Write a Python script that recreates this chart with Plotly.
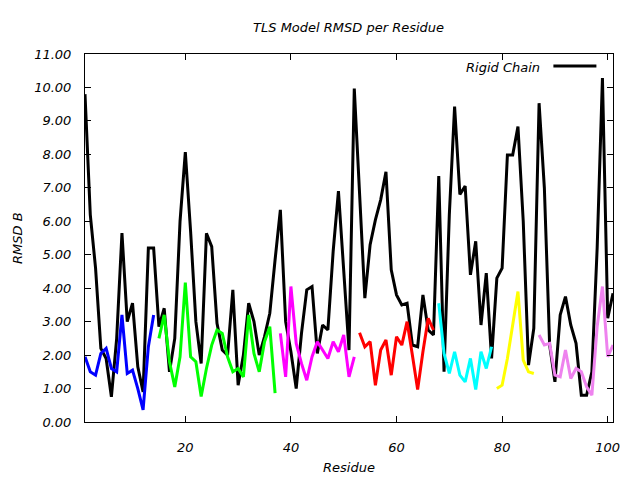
import plotly.graph_objects as go

# ---------------- data ----------------
residues = list(range(1, 102))

rigid_chain = [
    9.8, 6.2, 4.6, 2.2, 1.9, 0.75, 2.5, 5.65, 3.0, 3.55,
    1.65, 0.9, 5.2, 5.2, 2.85, 3.4, 1.5, 2.5, 6.0, 8.07,
    5.7, 3.0, 1.75, 5.64, 5.24, 2.95, 2.15, 2.0, 3.95, 1.1,
    2.0, 3.55, 3.0, 2.0, 2.55, 3.25, 4.85, 6.34, 3.0, 2.1,
    1.0, 2.65, 3.95, 4.05, 2.05, 2.9, 2.75, 5.1, 6.9, 4.35,
    2.15, 9.97, 6.6, 3.7, 5.3, 6.04, 6.64, 7.48, 4.55, 3.8,
    3.5, 3.55, 2.3, 2.25, 3.8, 2.75, 2.6, 7.35, 1.5, 6.2,
    9.43, 6.8, 7.05, 4.4, 5.4, 2.9, 4.45, 1.9, 4.3, 4.6,
    7.98, 7.98, 8.83, 6.0, 1.7, 2.8, 9.53, 7.0, 2.3, 1.2,
    3.2, 3.75, 2.9, 2.35, 0.8, 0.8, 1.5, 5.2, 10.28, 3.1,
    3.85,
]

group1_res = list(range(1, 15))
group1 = [1.95, 1.5, 1.4, 2.05, 2.2, 1.6, 1.5, 3.2, 1.45, 1.55, 1.0, 0.36, 2.25, 3.2]

group2_res = list(range(15, 38))
group2 = [2.5, 3.2, 1.8, 1.05, 1.95, 4.17, 1.95, 1.8, 0.76, 1.6, 2.3, 2.75,
          2.65, 1.95, 1.5, 1.6, 1.35, 3.2, 2.05, 1.5, 2.4, 2.85, 0.86]

group3_res = list(range(38, 53))
group3 = [2.65, 1.35, 4.05, 2.35, 1.75, 1.25, 1.95, 2.4, 2.15, 1.9, 2.4, 2.1, 2.6, 1.35, 1.95]

group4_res = list(range(53, 68))
group4 = [2.67, 2.25, 2.4, 1.1, 2.15, 2.45, 1.4, 2.55, 2.3, 3.0, 2.0, 0.97, 2.1, 3.1, 2.75]

group5_res = list(range(68, 79))
group5 = [3.55, 2.05, 1.45, 2.1, 1.4, 1.2, 1.9, 0.97, 2.1, 1.6, 2.25]

group6_res = list(range(79, 87))
group6 = [1.0, 1.1, 1.9, 2.95, 3.9, 1.85, 1.5, 1.45]

group7_res = list(range(87, 102))
group7 = [2.6, 2.3, 2.35, 1.4, 1.35, 2.15, 1.3, 1.6, 1.5, 1.05, 0.8, 2.85, 4.05, 1.95, 2.3]

x_tick_vals = [20, 40, 60, 80, 100]
y_tick_vals = [0, 1, 2, 3, 4, 5, 6, 7, 8, 9, 10, 11]

# ---------------- styles ----------------
group_colors = ["#0000ff", "#00ff00", "#ff00ff", "#ff0000", "#00ffff", "#ffff00", "#ee82ee"]
FONT = "DejaVu Sans"
FS = 13

# page body has an 8px default margin, so the figure is 8px smaller
W, H = 632, 472
PL, PR, PT, PB = 76.6, 27.4, 46, 58
PW = W - PL - PR
PH = H - PT - PB

fig = go.Figure()

fig.add_trace(go.Scatter(
    x=residues, y=rigid_chain, mode="lines", name="Rigid Chain",
    line=dict(color="black", width=3), showlegend=False,
))

groups = [
    (group1_res, group1), (group2_res, group2), (group3_res, group3),
    (group4_res, group4), (group5_res, group5), (group6_res, group6),
    (group7_res, group7),
]
for (gx, gy), col in zip(groups, group_colors):
    fig.add_trace(go.Scatter(
        x=gx, y=gy, mode="lines", line=dict(color=col, width=3),
        showlegend=False,
    ))

axis_font = dict(family=FONT, size=FS, color="black", style="italic")

fig.update_layout(
    width=W, height=H,
    margin=dict(l=PL, r=PR, t=PT, b=PB, pad=0),
    paper_bgcolor="white", plot_bgcolor="white",
    showlegend=False,
    title=dict(text="TLS Model RMSD per Residue", x=(PL + PW / 2) / W, xanchor="center",
               y=1 - 19 / H, yanchor="middle", font=axis_font),
    xaxis=dict(
        range=[1, 101], tickvals=x_tick_vals, ticks="inside", ticklen=6,
        tickcolor="black", showline=True, linecolor="black", linewidth=1,
        mirror="ticks", showgrid=False, zeroline=False,
        tickfont=axis_font, ticklabelstandoff=13,
    ),
    yaxis=dict(
        range=[0, 11], tickvals=y_tick_vals, tickformat=".2f", ticks="inside",
        ticklen=6, tickcolor="black", showline=True, linecolor="black",
        linewidth=1, mirror="ticks", showgrid=False, zeroline=False,
        tickfont=axis_font, ticklabelstandoff=10,
    ),
    annotations=[
        dict(text="Residue", xref="paper", yref="paper", x=0.5, y=-45 / PH,
             xanchor="center", yanchor="middle", showarrow=False, font=axis_font),
        dict(text="RMSD B", xref="paper", yref="paper", x=-68 / PW, y=0.5,
             xanchor="center", yanchor="middle", textangle=-90, showarrow=False,
             font=axis_font),
        dict(text="Rigid Chain", xref="paper", yref="paper", x=(542 - 84.6) / PW,
             y=(422 - 67) / PH, xanchor="right", yanchor="middle",
             showarrow=False, font=axis_font),
    ],
    shapes=[
        dict(type="line", xref="paper", yref="paper",
             x0=(553 - 84.6) / PW, x1=(596 - 84.6) / PW,
             y0=(422 - 66) / PH, y1=(422 - 66) / PH,
             line=dict(color="black", width=3)),
    ],
)

fig.write_html("out.html")
